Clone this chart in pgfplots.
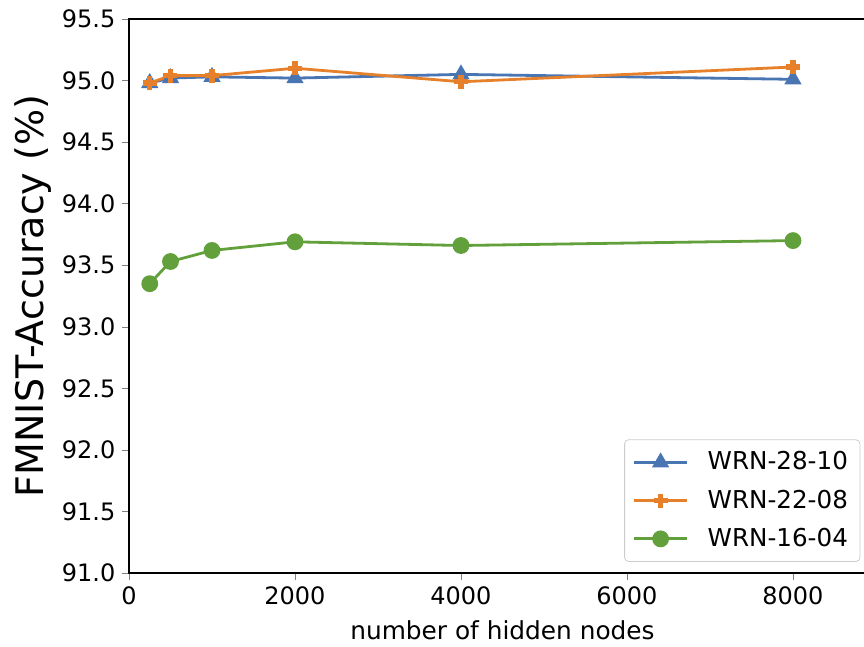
\documentclass[border=0pt]{standalone}
\usepackage{fontspec}
\setmainfont{DejaVu Sans}
\usepackage{pgfplots}
\pgfplotsset{compat=1.18}
\definecolor{wblue}{HTML}{4A75B3}
\definecolor{worange}{HTML}{E6802A}
\definecolor{wgreen}{HTML}{62A03B}

\begin{document}
\begin{tikzpicture}
\begin{axis}[
    scale only axis,
    width=373.5pt, height=277pt,
    xmin=0, xmax=9000,
    ymin=91, ymax=95.5,
    xtick={0,2000,4000,6000,8000},
    ytick={91,91.5,92,92.5,93,93.5,94,94.5,95,95.5},
    tick align=outside, tick pos=left,
    major tick length=3.3pt,
    axis line style={line width=0.6pt},
    /pgf/number format/assume math mode=true,
    x tick label style={/pgf/number format/1000 sep={}},
    y tick label style={/pgf/number format/.cd, fixed, fixed zerofill, precision=1},
    ticklabel style={font=\fontsize{12}{14}\selectfont},
    xlabel={number of hidden nodes},
    xlabel style={font=\fontsize{12.4}{14}\selectfont, at={(axis description cs:0.5,-0.103)}, anchor=center},
    ylabel={FMNIST-Accuracy (\%)},
    ylabel style={font=\fontsize{19}{22}\selectfont, at={(axis description cs:-0.1285,0.5)}, anchor=center},
    legend style={at={(0.979,0.02)}, anchor=south east, draw=black!20, rounded corners=2pt,
        font=\fontsize{12.3}{14}\selectfont, cells={anchor=west}, row sep=4.5pt,
        inner xsep=4pt, inner ysep=4pt},
    legend image code/.code={\draw[mark repeat=2,mark phase=2,#1] plot coordinates {(0cm,0cm) (0.467cm,0cm) (0.935cm,0cm)};
        \path (1.2cm,0cm);},
]
\addplot[wblue, line width=1.4pt, mark=triangle*, mark size=3.6pt, mark options={solid}] coordinates {
    (250,94.98) (500,95.02) (1000,95.03) (2000,95.02) (4000,95.05) (8000,95.01)
};
\addlegendentry{WRN-28-10}
\addplot[worange, line width=1.4pt, mark=+, mark size=3.5pt, mark options={line width=2.6pt}] coordinates {
    (250,94.98) (500,95.04) (1000,95.04) (2000,95.10) (4000,94.99) (8000,95.11)
};
\addlegendentry{WRN-22-08}
\addplot[wgreen, line width=1.4pt, mark=*, mark size=3.5pt] coordinates {
    (250,93.35) (500,93.53) (1000,93.62) (2000,93.69) (4000,93.66) (8000,93.70)
};
\addlegendentry{WRN-16-04}
\end{axis}
\pgfresetboundingbox
\useasboundingbox (-64.5pt,-37pt) rectangle (367.5pt,286.5pt);
\end{tikzpicture}
\end{document}
